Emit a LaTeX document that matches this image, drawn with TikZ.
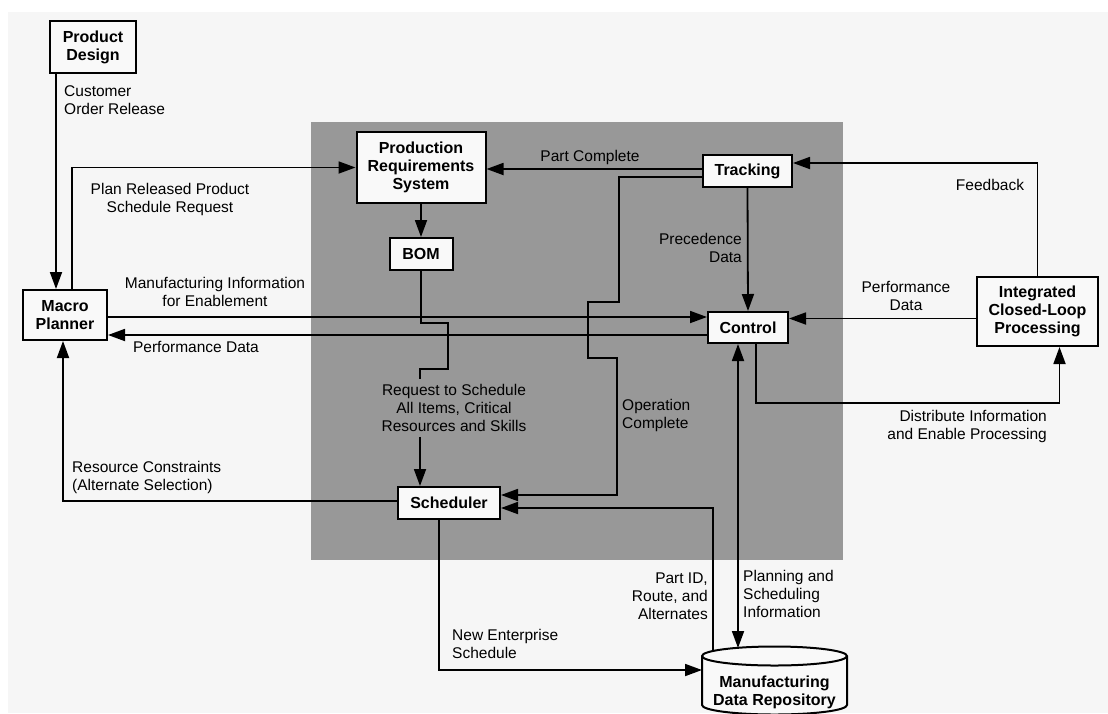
\documentclass[tikz,border=0pt]{standalone}
\usepackage{fontspec}
\setmainfont{Liberation Sans}
\usetikzlibrary{arrows.meta,calc}
\definecolor{paper}{RGB}{246,246,246}
\definecolor{panel}{RGB}{152,152,152}
\definecolor{boxfill}{RGB}{249,249,249}
\begin{document}
\begin{tikzpicture}[x=1pt,y=-1pt,
  every node/.style={font=\fontsize{15.5}{18}\selectfont, inner sep=0pt},
  box/.style={draw, line width=2pt, fill=boxfill, align=center,
              font=\fontsize{16}{18}\selectfont\bfseries},
  lbl/.style={align=center},
  flow/.style={line width=1.8pt, -{Triangle[length=17pt,width=12pt]}},
  twoway/.style={line width=1.8pt, {Triangle[length=17pt,width=12pt]}-{Triangle[length=17pt,width=12pt]}},
  wire/.style={line width=1.8pt}
]
\useasboundingbox (0,0) rectangle (1108,713);
\fill[white] (0,0) rectangle (1108,713);
\fill[paper] (8,12) rectangle (1108,713);

% shaded area holding the enterprise scheduling functions
\fill[panel] (311,122) rectangle (843,560);

% functional blocks
\node[box, minimum width=86pt, minimum height=52pt] (pd) at (93,47) {Product\\Design};
\node[box, minimum width=84pt, minimum height=50pt] (mp) at (65,315) {Macro\\Planner};
\node[box, minimum width=129pt, minimum height=71pt] (prs) at (421,167.5) {Production\\Requirements\\System};
\node[box, minimum width=63pt, minimum height=32pt] (bom) at (421,254) {BOM};
\node[box, minimum width=89pt, minimum height=32pt] (trk) at (747.5,171) {Tracking};
\node[box, minimum width=80pt, minimum height=31pt] (ctl) at (748,327.5) {Control};
\node[box, minimum width=121pt, minimum height=69pt] (icp) at (1037.5,311.5) {Integrated\\Closed-Loop\\Processing};
\node[box, minimum width=102pt, minimum height=32pt] (sch) at (449,503) {Scheduler};

% data repository drum
\filldraw[line width=2pt, fill=boxfill]
  (702,656) -- (702,705) arc[start angle=180, end angle=360, x radius=72.5pt, y radius=9.5pt]
  -- (847,656) arc[start angle=0, end angle=180, x radius=72.5pt, y radius=9.5pt] -- cycle;
\draw[line width=2pt] (702,656) arc[start angle=180, end angle=360, x radius=72.5pt, y radius=9.5pt];
\node[font=\fontsize{16}{18}\selectfont\bfseries, align=center] (mdr) at (774.5,692) {Manufacturing\\Data Repository};
\coordinate (mdrL) at (702,670);
\coordinate (mdrA) at (713,651);
\coordinate (mdrB) at (738,648);

% labels
\node[anchor=west, align=left] (cor) at (64,100) {Customer\\Order Release};
\node[lbl] (prq) at (170,199) {Plan Released Product\\Schedule Request};
\node[lbl] (mie) at (215,292) {Manufacturing Information\\for Enablement};
\node[lbl] (pdl) at (196,347) {Performance Data};
\node[anchor=west, align=left] (rcs) at (72,477) {Resource Constraints\\(Alternate Selection)};
\node[lbl] (pcl) at (590,157) {Part Complete};
\node[anchor=east, align=right] (pcd) at (742,248) {Precedence\\Data};
\node[lbl, inner sep=5pt] (rq) at (454,408) {Request to Schedule\\All Items, Critical\\Resources and Skills};
\node[anchor=west, align=left] (opc) at (622,415) {Operation\\Complete};
\node[lbl] (pdr) at (906,296) {Performance\\Data};
\node[lbl] (fbk) at (990,185) {Feedback};
\node[anchor=east, align=right] (dist) at (1047,426) {Distribute Information\\and Enable Processing};
\node[anchor=east, align=right] (pid) at (708,596) {Part ID,\\Route, and\\Alternates};
\node[anchor=west, align=left] (psi) at (743,594) {Planning and\\Scheduling\\Information};
\node[anchor=west, align=left] (nes) at (452,644) {New Enterprise\\Schedule};

% connectors
\draw[flow] ([xshift=7pt]pd.south west) -- ([xshift=7pt]pd.south west |- mp.north);
\draw[flow] ([xshift=50pt]mp.north west) |- (prs.west);
\draw[flow] (prs.south) -- (bom.north);
\draw[wire] (bom.south) -- ++(0,52) -- ++(27,0) -- ++(0,46) -- ++(-28,0) coordinate (rqx) -- (rqx |- rq.north);
\draw[flow] (rqx |- rq.south) -- (rqx |- sch.north);
\draw[flow] ([yshift=-2pt]mp.east) -- ([yshift=-2pt]mp.east -| ctl.west);
\draw[flow] ([yshift=-20pt]mp.east -| ctl.west) -- ([yshift=-20pt]mp.east);
\draw[flow] ([yshift=2pt]trk.west) -- ([yshift=2pt]trk.west -| prs.east);
\draw[flow] ([yshift=-6pt]trk.west) -- ++(-83,0) -- ++(0,125) -- ++(-31,0) -- ++(0,56) -- ++(29,0)
  |- ([yshift=8pt]sch.east);
\draw[flow] (mdrA) |- ([yshift=-5pt]sch.east);
\draw[flow] (trk.south) -- (ctl.north);
\draw[twoway] ([xshift=-10pt]ctl.south) -- (mdrB);
\draw[flow] ([xshift=8pt]ctl.south) -- ++(0,59) -| ([xshift=22pt]icp.south);
\draw[flow] (icp.north) |- ([yshift=8pt]trk.east);
\draw[flow] ([yshift=-7pt]icp.west) -- ([yshift=-7pt]icp.west -| ctl.east);
\draw[flow] ([yshift=2pt]sch.west) -| ([xshift=-2pt]mp.south);
\draw[flow] ([xshift=-10pt]sch.south) |- (mdrL);
\end{tikzpicture}
\end{document}
